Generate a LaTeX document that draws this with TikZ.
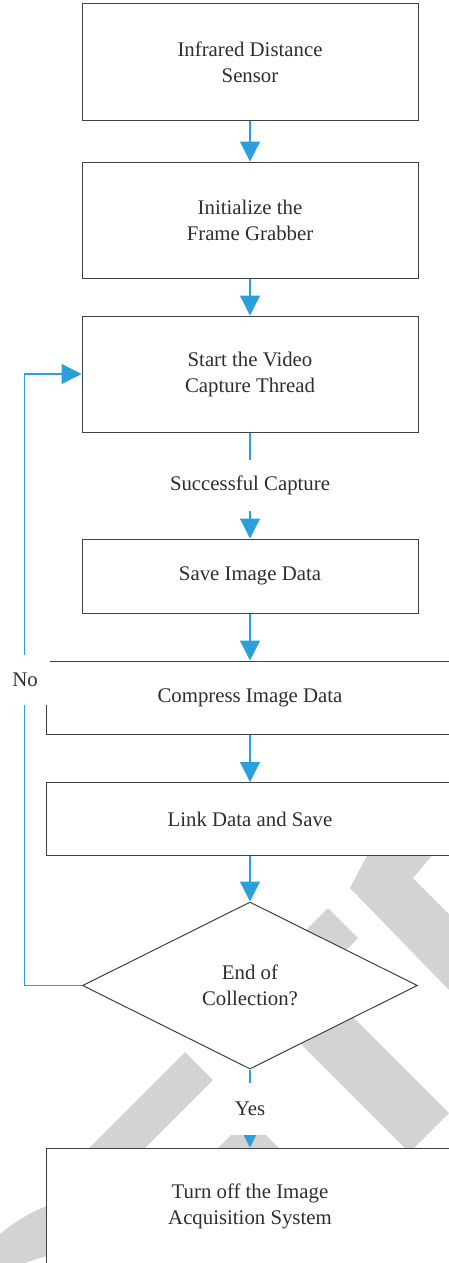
\documentclass[tikz,border=0pt]{standalone}
\usepackage{fontspec}
\setmainfont{Liberation Serif}
\usetikzlibrary{arrows.meta,shapes.geometric}
\definecolor{flowblue}{HTML}{2A9FDB}
\definecolor{boxline}{HTML}{404040}
\definecolor{txt}{HTML}{2E2E2E}
\definecolor{wm}{HTML}{D3D3D3}
\begin{document}
\begin{tikzpicture}[x=1pt,y=-1pt,
  box/.style={draw=boxline,line width=1pt,fill=white,minimum width=336pt,minimum height=116pt,inner sep=0pt,align=center,text=txt,font=\fontsize{20.8}{26}\selectfont},
  widebox/.style={box,minimum width=408pt,minimum height=73pt},
  decision/.style={diamond,draw=boxline,line width=1pt,fill=white,minimum width=335pt,minimum height=167pt,aspect=2,inner sep=0pt,align=center,text=txt,font=\fontsize{20.8}{26}\selectfont},
  lbl/.style={fill=white,inner sep=0pt,text=txt,font=\fontsize{20.8}{26}\selectfont},
  flow/.style={draw=flowblue,line width=1.3pt,-{Triangle[width=20pt,length=20pt]},color=flowblue},
  wmark/.style={fill=wm,draw=none}
]
\useasboundingbox (0,0) rectangle (449,1263);
\clip (0,0) rectangle (449,1263);
% watermark
\fill[wmark] (369,852) -- (435,852) -- (413,878) -- (449,914) -- (449,990) -- (350,888) -- cycle;
\fill[wmark] (328,908) -- (358,938) -- (290,1006) -- (260,976) -- cycle;
\fill[wmark] (185,1052) -- (213,1080) -- (137,1156) -- (81,1156) -- cycle;
\fill[wmark] (260,1003) -- (300,964) -- (449,1113) -- (409.5,1152.5) -- cycle;
\fill[wmark] (214,1152) -- (248.5,1117.5) -- (283,1152) -- cycle;
\fill[wmark] (0,1234) .. controls (15,1222) and (30,1212) .. (47,1206) -- (47,1256) .. controls (40,1258) and (33,1260) .. (25,1263) -- (0,1263) -- cycle;
% nodes
\node[box] (b1) at (250,62) {Infrared Distance\\Sensor};
\node[box] (b2) at (250,220) {Initialize the\\Frame Grabber};
\node[box] (b3) at (250,374) {Start the Video\\Capture Thread};
\node[box,minimum height=74pt] (b4) at (250,576) {Save Image Data};
\node[widebox] (b5) at (250,697.5) {Compress Image Data};
\node[widebox] (b6) at (250,819) {Link Data and Save};
\node[decision] (dec) at (250,985.5) {End of\\Collection?};
\node[box,minimum width=408pt] (b7) at (250,1206) {Turn off the Image\\Acquisition System};
% connectors
\draw[flow] (b1) -- (b2);
\draw[flow] (b2) -- (b3);
\draw[flow] (b3) -- (b4);
\draw[flow] (b4) -- (b5);
\draw[flow] (b5) -- (b6);
\draw[flow] (b6) -- (dec);
\draw[flow] (dec.south) -- (b7.north);
\draw[flow] (dec.west) -- ++(-57.5,0) |- (b3.west);
% labels
\node[lbl,minimum width=180pt,minimum height=51pt] (succ) at (250,485.5) {Successful Capture};
\node[lbl,minimum width=60pt,minimum height=52pt] (yes) at (250,1109) {Yes};
\node[lbl,minimum width=50pt,minimum height=50pt] (no) at (25,680) {No};
\end{tikzpicture}
\end{document}
